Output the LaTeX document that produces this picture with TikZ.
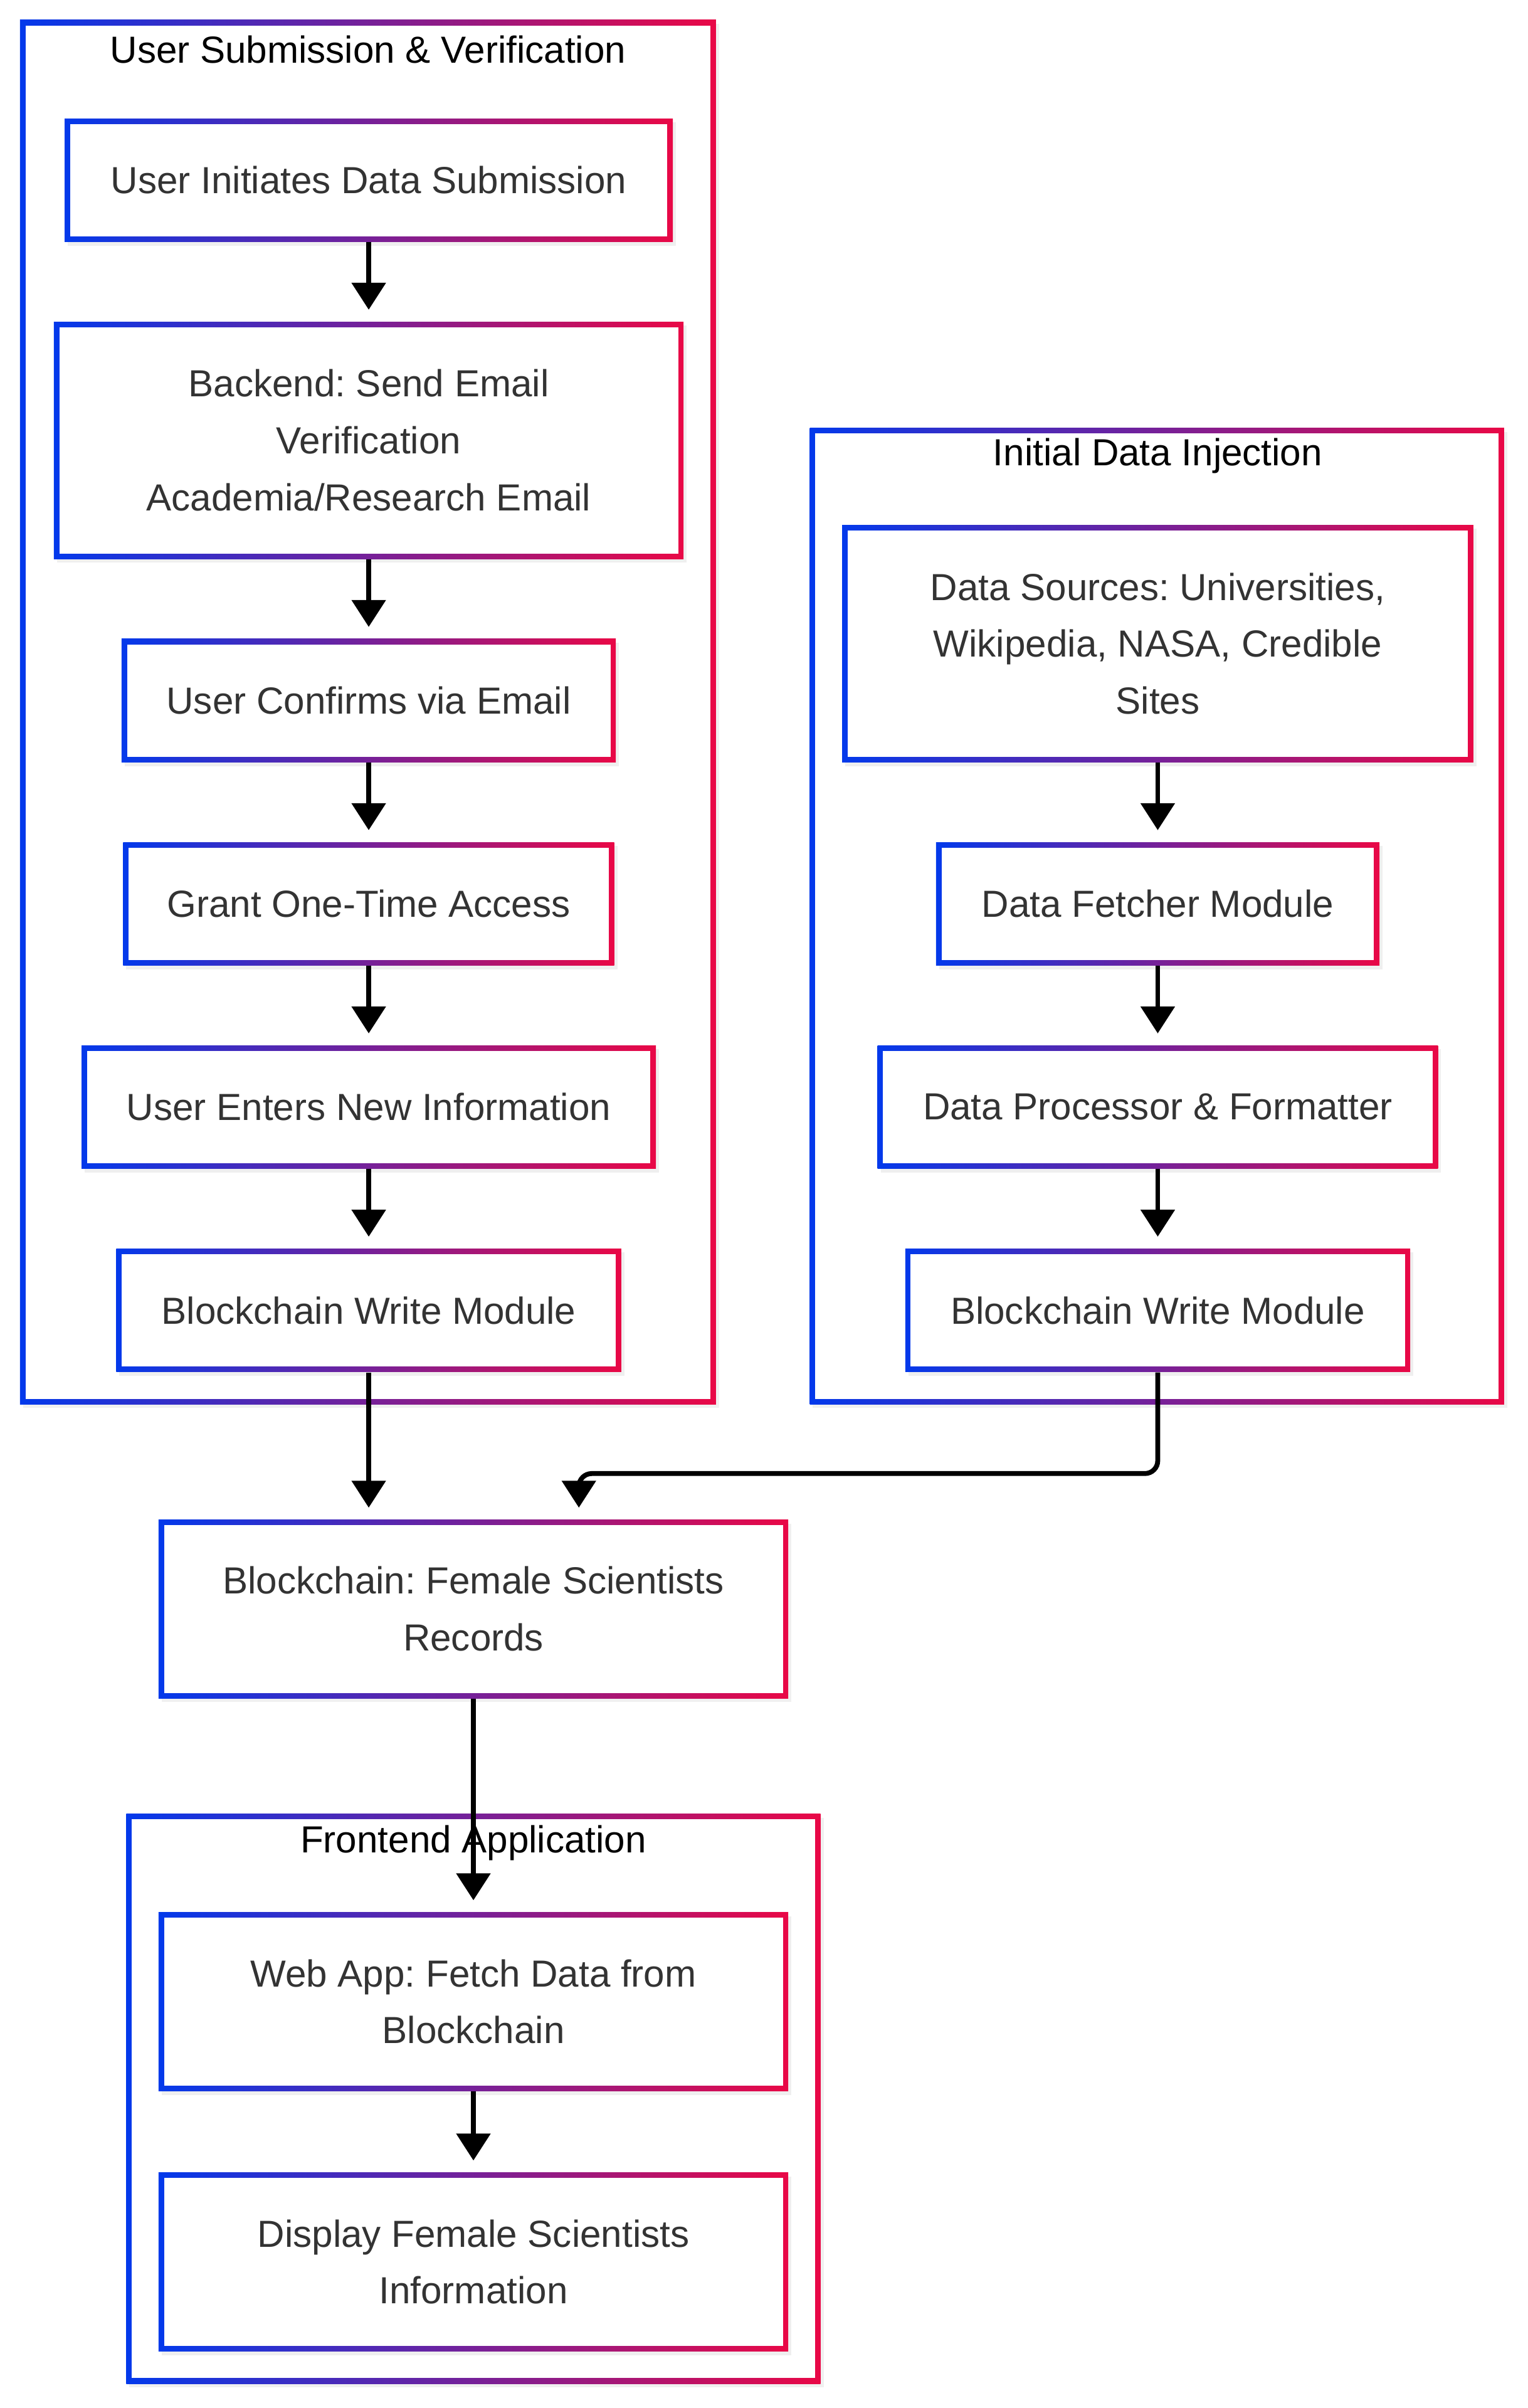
\documentclass[tikz,border=0pt]{standalone}
\usepackage{fontspec}
\setmainfont{Liberation Sans}
\frenchspacing
\usetikzlibrary{arrows.meta,shadows,calc}
\definecolor{blueC}{RGB}{3,57,235}
\definecolor{redC}{RGB}{233,8,70}
\definecolor{textC}{RGB}{51,51,51}
\begin{document}
\begin{tikzpicture}[x=0.6pt,y=-0.6pt,
    gradframe/.style={rectangle,inner sep=0pt,align=center,
      drop shadow={opacity=0.12,shadow xshift=1.2pt,shadow yshift=-1.5pt},
      path picture={
        \shade[left color=blueC,right color=redC]
          (path picture bounding box.south west) rectangle (path picture bounding box.north east);
        \fill[white]
          ([shift={(2.1pt,2.1pt)}]path picture bounding box.south west) rectangle
          ([shift={(-2.1pt,-2.1pt)}]path picture bounding box.north east);}},
    box/.style={gradframe,text=textC,minimum height=48pt,
      font=\fontsize{14.7}{22.2}\selectfont},
    tall/.style={box,minimum height=92.4pt},
    mid/.style={box,minimum height=69.6pt},
    cluster/.style={gradframe},
    title/.style={text=black,inner sep=0pt,font=\fontsize{14.7}{22.2}\selectfont},
    arr/.style={draw=black,line width=1.9pt,
      -{Triangle[length=10.5pt,width=13pt]},shorten >=4.5pt}]
  \useasboundingbox (0,0) rectangle (992.5,1563.9);

  % clusters
  \node[cluster,minimum width=271.2pt,minimum height=539.4pt] (user) at (239,462.5) {};
  \node[cluster,minimum width=270.6pt,minimum height=380.4pt] (inject) at (751.5,595) {};
  \node[cluster,minimum width=270.6pt,minimum height=222pt] (front) at (307.5,1363) {};
  \node[title] (userT) at (239,32) {User Submission \& Verification};
  \node[title] (injectT) at (752,296) {Initial Data Injection};
  \node[title] (frontT) at (307.5,1197) {Frontend Application};

  % user submission
  \node[box,minimum width=237pt] (init) at (239.5,117) {User Initiates Data Submission};
  \node[tall,minimum width=245.4pt] (mail) at (239.5,286)
    {Backend: Send Email\\Verification\\Academia/Research Email};
  \node[box,minimum width=192.6pt] (confirm) at (239.5,455) {User Confirms via Email};
  \node[box,minimum width=191.4pt] (grant) at (239.5,587) {Grant One-Time Access};
  \node[box,minimum width=223.8pt] (enter) at (239.5,719) {User Enters New Information};
  \node[box,minimum width=196.8pt] (writeU) at (239.5,851) {Blockchain Write Module};

  % initial data injection
  \node[tall,minimum width=246pt] (sources) at (752,418)
    {Data Sources: Universities,\\Wikipedia, NASA, Credible\\Sites};
  \node[box,minimum width=172.8pt] (fetch) at (752,587) {Data Fetcher Module};
  \node[box,minimum width=218.4pt] (proc) at (752,719) {Data Processor \& Formatter};
  \node[box,minimum width=196.8pt] (writeI) at (752,851) {Blockchain Write Module};

  % chain and frontend
  \node[mid,minimum width=245.4pt] (chain) at (307.5,1045)
    {Blockchain: Female Scientists\\Records};
  \node[mid,minimum width=245.4pt] (webapp) at (307.5,1300)
    {Web App: Fetch Data from\\Blockchain};
  \node[mid,minimum width=245.4pt] (show) at (307.5,1469)
    {Display Female Scientists\\Information};
  \coordinate (bend) at (376,957);

  % arrows
  \draw[arr] (init) -- (mail);
  \draw[arr] (mail) -- (confirm);
  \draw[arr] (confirm) -- (grant);
  \draw[arr] (grant) -- (enter);
  \draw[arr] (enter) -- (writeU);
  \draw[arr] (sources) -- (fetch);
  \draw[arr] (fetch) -- (proc);
  \draw[arr] (proc) -- (writeI);
  \draw[arr] (writeU.south) -- (writeU.south |- chain.north);
  \draw[arr,rounded corners=5pt] (writeI.south) |- (bend) -- (bend |- chain.north);
  \draw[arr] (chain) -- (webapp);
  \draw[arr] (webapp) -- (show);
\end{tikzpicture}
\end{document}
